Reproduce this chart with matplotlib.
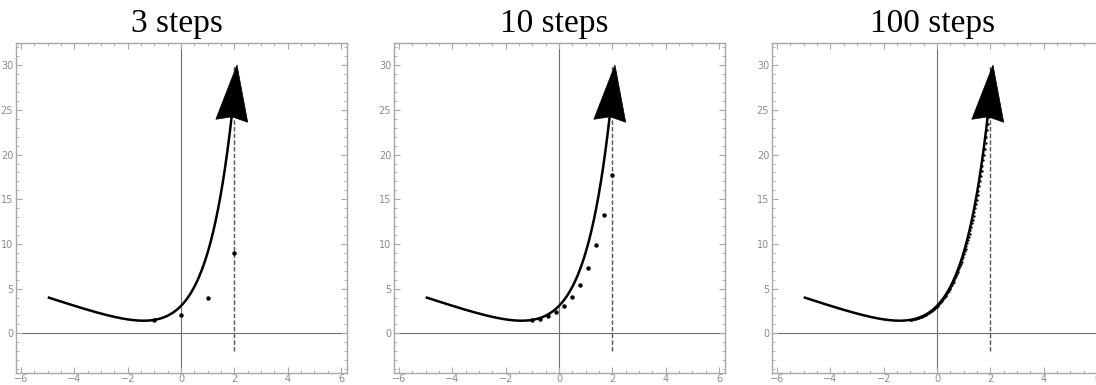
import numpy as np
import matplotlib
matplotlib.use('Agg')
from matplotlib import pyplot as plt
from matplotlib.patches import Polygon
from matplotlib.ticker import MultipleLocator

# dy/dx = x + y, y(-1) = 1.5, Euler steps from x=-1 to x=2
x_start, y_start = -1.0, 1.5
x_stop = 2.0
curve_from, curve_to = -5.0, 2.095

titles = ['3 steps', '10 steps', '100 steps']
steps = [3, 10, 100]

euler_3_x = [-1.0, 0.0, 1.0, 2.0]
euler_3_y = [1.5, 2.0, 4.0, 9.0]
euler_10_x = [-1.0, -0.7, -0.4, -0.1, 0.2, 0.5, 0.8, 1.1, 1.4, 1.7, 2.0]
euler_10_y = [1.5, 1.65, 1.94, 2.40, 3.08, 4.07, 5.44, 7.31, 9.83, 13.20, 17.67]


def exact(x):
    return -x - 1 + y_start * np.exp(x - x_start)


def euler(n):
    h = (x_stop - x_start) / n
    xs, ys = [x_start], [y_start]
    for i in range(n):
        ys.append(ys[-1] + h * (xs[-1] + ys[-1]))
        xs.append(xs[-1] + h)
    return xs, ys


points = {3: (euler_3_x, euler_3_y), 10: (euler_10_x, euler_10_y), 100: euler(100)}
marker_size = {3: 3.2, 10: 3.2, 100: 1.7}

W, H = 1096, 385
fig = plt.figure(figsize=(W / 100, H / 100), dpi=100)
lefts = [16, 394, 772]
frame_gray = '#a8a8a8'

for left, title, n in zip(lefts, titles, steps):
    ax = fig.add_axes([left / W, 12 / H, 331 / W, 330 / H])
    ax.set_xlim(-6.19, 6.22)
    ax.set_ylim(-4.45, 32.5)

    ax.axhline(0, color='#6e6e6e', lw=0.8, zorder=1)
    ax.axvline(0, color='#6e6e6e', lw=0.8, zorder=1)

    # dashed marker at the end of the interval
    ax.plot([x_stop, x_stop], [-2, 30], color='#555555', lw=1.0,
            linestyle=(0, (3.2, 1.6)), zorder=2)

    xs = np.linspace(curve_from, curve_to - 0.04, 400)
    ax.plot(xs, exact(xs), color='black', lw=1.8, solid_capstyle='butt', zorder=3)

    px, py = points[n]
    ax.plot(px, py, 'o', color='black', ms=marker_size[n], mew=0, zorder=4)

    # arrowhead built in pixel space so it keeps its shape
    tip = ax.transData.transform((curve_to, exact(curve_to)))
    back = ax.transData.transform((curve_to - 0.01, exact(curve_to - 0.01)))
    d = (tip - back) / np.hypot(*(tip - back))
    nrm = np.array([-d[1], d[0]])
    L, w, notch = 56, 16, 4
    head = np.array([tip,
                     tip - L * d + w * nrm,
                     tip - (L - notch) * d,
                     tip - L * d - w * nrm])
    head = ax.transData.inverted().transform(head)
    ax.add_patch(Polygon(head, closed=True, facecolor='black', edgecolor='black',
                         lw=0.5, zorder=5))

    ax.xaxis.set_major_locator(MultipleLocator(2))
    ax.xaxis.set_minor_locator(MultipleLocator(0.5))
    ax.yaxis.set_major_locator(MultipleLocator(5))
    ax.yaxis.set_minor_locator(MultipleLocator(1))
    ax.tick_params(which='both', direction='in', top=True, right=True,
                   color=frame_gray, labelcolor='#8a8a8a', labelsize=7)
    ax.tick_params(axis='x', pad=0.8)
    ax.tick_params(axis='y', pad=2)
    ax.tick_params(which='major', length=4, width=0.8)
    ax.tick_params(which='minor', length=2, width=0.6)
    for s in ax.spines.values():
        s.set_color(frame_gray)
        s.set_linewidth(1.0)

    fig.text((left + 331 / 2 - 5) / W, 1 - 32 / H, title, ha='center',
             va='baseline', fontsize=24, family='Liberation Serif')

fig.savefig('out.png', dpi=100)
